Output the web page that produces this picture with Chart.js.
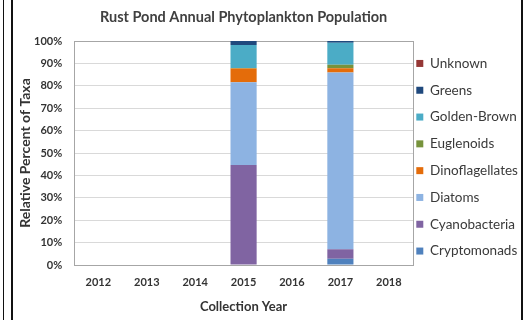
<!DOCTYPE html>
<html>
<head>
<meta charset="utf-8">
<script src="https://cdn.jsdelivr.net/npm/chart.js@4.4.1/dist/chart.umd.min.js"></script>
<style>
  html, body { margin: 0; padding: 0; background: #fff; }
  #wrap { position: relative; width: 523px; height: 320px; }
  #wrap canvas { position: absolute; left: 0; top: 0; }
  .rule { position: absolute; top: 0; height: 320px; background: #111; }
</style>
</head>
<body>
<div id="wrap">
  <canvas id="chart" width="523" height="320"></canvas>
  <div class="rule" style="left:3px;width:1px"></div>
  <div class="rule" style="left:11px;width:2px"></div>
  <div class="rule" style="left:521px;width:2px"></div>
</div>
<script>
// Collection years on the x axis
const years = ['2012', '2013', '2014', '2015', '2016', '2017', '2018'];

// Relative percent of taxa per year (null = no sample that year)
const cryptomonads    = [null, null, null, 0,    null, 2.8,  null];
const cyanobacteria   = [null, null, null, 44.6, null, 4.2,  null];
const diatoms         = [null, null, null, 37.0, null, 78.9, null];
const dinoflagellates = [null, null, null, 6.1,  null, 1.9,  null];
const euglenoids      = [null, null, null, 0.2,  null, 1.6,  null];
const goldenBrown     = [null, null, null, 10.3, null, 9.8,  null];
const greens          = [null, null, null, 1.8,  null, 0.8,  null];
const unknown         = [null, null, null, 0,    null, 0,    null];

// Percent axis ticks
const yTicks = [0, 10, 20, 30, 40, 50, 60, 70, 80, 90, 100];

const FONT = 'Lato, "Open Sans", sans-serif';
const INK = '#333333';

const series = [
  { label: 'Cryptomonads',    data: cryptomonads,    color: '#4f81bd' },
  { label: 'Cyanobacteria',   data: cyanobacteria,   color: '#8064a2' },
  { label: 'Diatoms',         data: diatoms,         color: '#8db3e2' },
  { label: 'Dinoflagellates', data: dinoflagellates, color: '#e46c0a' },
  { label: 'Euglenoids',      data: euglenoids,      color: '#77933c' },
  { label: 'Golden-Brown',    data: goldenBrown,     color: '#4bacc6' },
  { label: 'Greens',          data: greens,          color: '#1f497d' },
  { label: 'Unknown',         data: unknown,         color: '#953735' }
];

// Frame around the plotting area
const plotFrame = {
  id: 'plotFrame',
  beforeDatasetsDraw(chart) {
    const { ctx, chartArea: a } = chart;
    ctx.save();
    ctx.strokeStyle = '#a6a6a6';
    ctx.lineWidth = 1;
    ctx.strokeRect(Math.round(a.left) + 0.5, Math.round(a.top) + 0.5,
                   Math.round(a.right - a.left), Math.round(a.bottom - a.top));
    ctx.restore();
  }
};

// Pull the legend a little closer to the plot, keeping its right edge
const legendNudge = {
  id: 'legendNudge',
  afterLayout(chart) {
    const lg = chart.legend;
    if (lg) { lg.left -= 10; lg.width += 10; }
  }
};

new Chart(document.getElementById('chart'), {
  type: 'bar',
  data: {
    labels: years,
    datasets: series.map(s => ({
      label: s.label,
      data: s.data,
      backgroundColor: s.color,
      borderWidth: 0,
      categoryPercentage: 1,
      barPercentage: 0.54
    }))
  },
  options: {
    responsive: false,
    animation: false,
    devicePixelRatio: 1,
    layout: { padding: { left: 13, right: 0, top: 0, bottom: 0 } },
    plugins: {
      title: {
        display: true,
        fullSize: false,
        text: 'Rust Pond Annual Phytoplankton Population',
        color: '#404040',
        font: { family: FONT, size: 14.5, weight: 'bold' },
        padding: { top: 8.3, bottom: 15.3 }
      },
      legend: {
        position: 'right',
        align: 'start',
        reverse: true,
        maxWidth: 110,
        title: { display: true, text: '', padding: { top: 29, bottom: 0 } },
        labels: {
          boxWidth: 7,
          boxHeight: 7,
          padding: 13.3,
          color: '#3a3a3a',
          font: { family: FONT, size: 13.5 }
        }
      },
      tooltip: { enabled: false }
    },
    scales: {
      x: {
        stacked: true,
        grid: { display: false, drawTicks: false },
        border: { display: true, color: '#a6a6a6' },
        ticks: { color: INK, padding: 11, font: { family: FONT, size: 11, weight: 'bold' } },
        title: {
          display: true,
          text: 'Collection Year',
          color: INK,
          font: { family: FONT, size: 13, weight: 'bold' },
          padding: { top: -1.3, bottom: 5.5 }
        }
      },
      y: {
        stacked: true,
        min: 0,
        max: 100,
        afterBuildTicks(scale) { scale.ticks = yTicks.map(v => ({ value: v })); },
        grid: { color: '#d9d9d9', drawTicks: false },
        border: { display: true, color: '#a6a6a6' },
        ticks: {
          color: INK,
          padding: 12,
          font: { family: FONT, size: 11, weight: 'bold' },
          callback: v => v + '%'
        },
        title: {
          display: true,
          text: 'Relative Percent of Taxa',
          color: INK,
          font: { family: FONT, size: 14, weight: 'bold' },
          padding: { top: 4, bottom: -11.8 }
        }
      }
    }
  },
  plugins: [plotFrame, legendNudge]
});
</script>
</body>
</html>
